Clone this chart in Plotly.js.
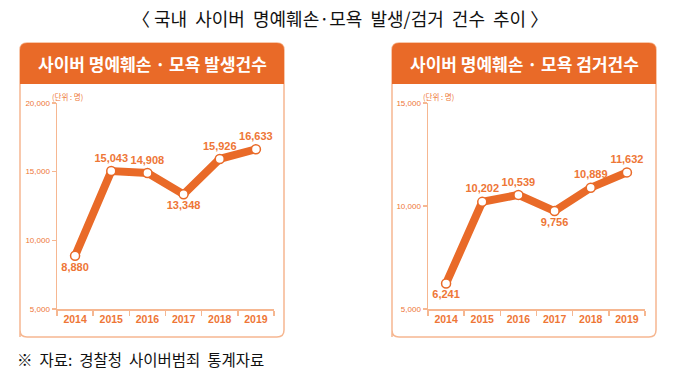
<!DOCTYPE html>
<html><head><meta charset="utf-8">
<script src="https://cdn.plot.ly/plotly-3.0.1.min.js"></script>
<style>html,body{margin:0;padding:0;background:#fff}#chart{width:684px;height:382px}</style>
</head><body><div id="chart"></div>
<script>
// ---- data ----
const years = ["2014","2015","2016","2017","2018","2019"];
const occurrences = [8880, 15043, 14908, 13348, 15926, 16633];   // 발생건수
const arrests = [6241, 10202, 10539, 9756, 10889, 11632];        // 검거건수
const occTicks = [5000, 10000, 15000, 20000];
const arrTicks = [5000, 10000, 15000];
const occLabelPos = ["bottom center","top center","top center","bottom center","top center","top center"];
const arrLabelPos = ["bottom center","top center","top center","bottom center","top center","top center"];
const mainTitle = "〈 국내  사이버  명예훼손·모욕  발생/검거  건수  추이 〉";
const leftHeader = "사이버 명예훼손 · 모욕 발생건수";
const rightHeader = "사이버 명예훼손 · 모욕 검거건수";
const unitText = "(단위 : 명)";
const sourceText = "※  자료:  경찰청  사이버범죄  통계자료";

// ---- styling ----
const W = 684, H = 382;
const ORANGE = "#E96A28";
const LABEL = "#EE7636";
const BORDER = "#F6B791";
const KR = "'Noto Sans CJK KR', 'Noto Sans', sans-serif";
const NUM = "'Liberation Sans', Arial, sans-serif";
const px = x => x / W;
const py = y => 1 - y / H;
const fmt = v => v.toLocaleString("en-US");

function roundedPath(x0, y0, x1, y1, r, topOnly) {
  const rx = r / W, ry = r / H;
  const X0 = px(x0), X1 = px(x1), Y0 = py(y0), Y1 = py(y1); // Y0 top, Y1 bottom
  let p = `M ${X0},${Y1} L ${X0},${Y0 - ry} Q ${X0},${Y0} ${X0 + rx},${Y0} L ${X1 - rx},${Y0} Q ${X1},${Y0} ${X1},${Y0 - ry}`;
  if (topOnly) {
    p += ` L ${X1},${Y1} Z`;
  } else {
    p += ` L ${X1},${Y1 + ry} Q ${X1},${Y1} ${X1 - rx},${Y1} L ${X0 + rx},${Y1} Q ${X0},${Y1} ${X0},${Y1 + ry} Z`;
  }
  return p;
}

function series(yvals, pos, xa, ya) {
  return {
    type: "scatter", mode: "lines+markers+text",
    x: years, y: yvals, xaxis: xa, yaxis: ya,
    text: yvals.map(fmt), textposition: pos,
    textfont: {family: NUM, size: 11, color: LABEL, weight: 700},
    line: {color: ORANGE, width: 8},
    marker: {size: 9, color: "#fff", line: {color: ORANGE, width: 1.5}},
    cliponaxis: false, hoverinfo: "skip", showlegend: false
  };
}

const plotTop = 103, plotBot = 309;
const yDom = [py(plotBot), py(plotTop)];

function xaxisDef(x0, x1, anchor) {
  return {
    domain: [px(x0), px(x1)], anchor: anchor, type: "category",
    range: [-0.5, 5.5], tickson: "boundaries", ticks: "outside", ticklen: 5,
    tickcolor: BORDER, tickwidth: 1.5, showline: true, linecolor: BORDER, linewidth: 1.5,
    showgrid: false, zeroline: false, fixedrange: true,
    tickfont: {family: NUM, size: 10.5, color: LABEL, weight: 700}
  };
}
function yaxisDef(range, ticks, anchor) {
  return {
    domain: yDom, anchor: anchor, range: range, tickvals: ticks, ticktext: ticks.map(fmt),
    ticks: "outside", ticklen: 4, tickcolor: BORDER, tickwidth: 1.5,
    showline: true, linecolor: BORDER, linewidth: 1.5, showgrid: false, zeroline: false,
    fixedrange: true, tickfont: {family: NUM, size: 8, color: LABEL}
  };
}

const shapes = [
  {type: "path", xref: "paper", yref: "paper", layer: "below", path: roundedPath(20, 43, 284, 337, 7, false), fillcolor: "#fff", line: {color: BORDER, width: 1.5}},
  {type: "path", xref: "paper", yref: "paper", layer: "below", path: roundedPath(20, 43, 284, 84, 7, true), fillcolor: ORANGE, line: {width: 0}},
  {type: "path", xref: "paper", yref: "paper", layer: "below", path: roundedPath(392, 43, 656, 337, 7, false), fillcolor: "#fff", line: {color: BORDER, width: 1.5}},
  {type: "path", xref: "paper", yref: "paper", layer: "below", path: roundedPath(392, 43, 656, 84, 7, true), fillcolor: ORANGE, line: {width: 0}}
];

const annotations = [
  {text: mainTitle, x: px(340), y: py(18), xref: "paper", yref: "paper", showarrow: false, xanchor: "center", yanchor: "middle", font: {family: KR, size: 18, color: "#111"}},
  {text: leftHeader, x: px(152), y: py(64), xref: "paper", yref: "paper", showarrow: false, xanchor: "center", yanchor: "middle", font: {family: KR, size: 17, color: "#fff", weight: 700}},
  {text: rightHeader, x: px(524), y: py(64), xref: "paper", yref: "paper", showarrow: false, xanchor: "center", yanchor: "middle", font: {family: KR, size: 17, color: "#fff", weight: 700}},
  {text: unitText, x: px(50), y: py(96), xref: "paper", yref: "paper", showarrow: false, xanchor: "left", yanchor: "middle", font: {family: KR, size: 7.5, color: LABEL}},
  {text: unitText, x: px(421), y: py(96), xref: "paper", yref: "paper", showarrow: false, xanchor: "left", yanchor: "middle", font: {family: KR, size: 7.5, color: LABEL}},
  {text: sourceText, x: px(15), y: py(359), xref: "paper", yref: "paper", showarrow: false, xanchor: "left", yanchor: "middle", font: {family: KR, size: 15.5, color: "#111"}}
];

const layout = {
  width: W, height: H, margin: {l: 0, r: 0, t: 0, b: 0},
  paper_bgcolor: "#fff", plot_bgcolor: "rgba(0,0,0,0)",
  showlegend: false,
  xaxis: xaxisDef(57, 274, "y"),
  yaxis: yaxisDef([5000, 20000], occTicks, "x"),
  xaxis2: xaxisDef(428, 645, "y2"),
  yaxis2: yaxisDef([5000, 15000], arrTicks, "x2"),
  shapes: shapes, annotations: annotations
};

Plotly.newPlot("chart", [
  series(occurrences, occLabelPos, "x", "y"),
  series(arrests, arrLabelPos, "x2", "y2")
], layout, {staticPlot: true, displayModeBar: false});
</script>
</body></html>
